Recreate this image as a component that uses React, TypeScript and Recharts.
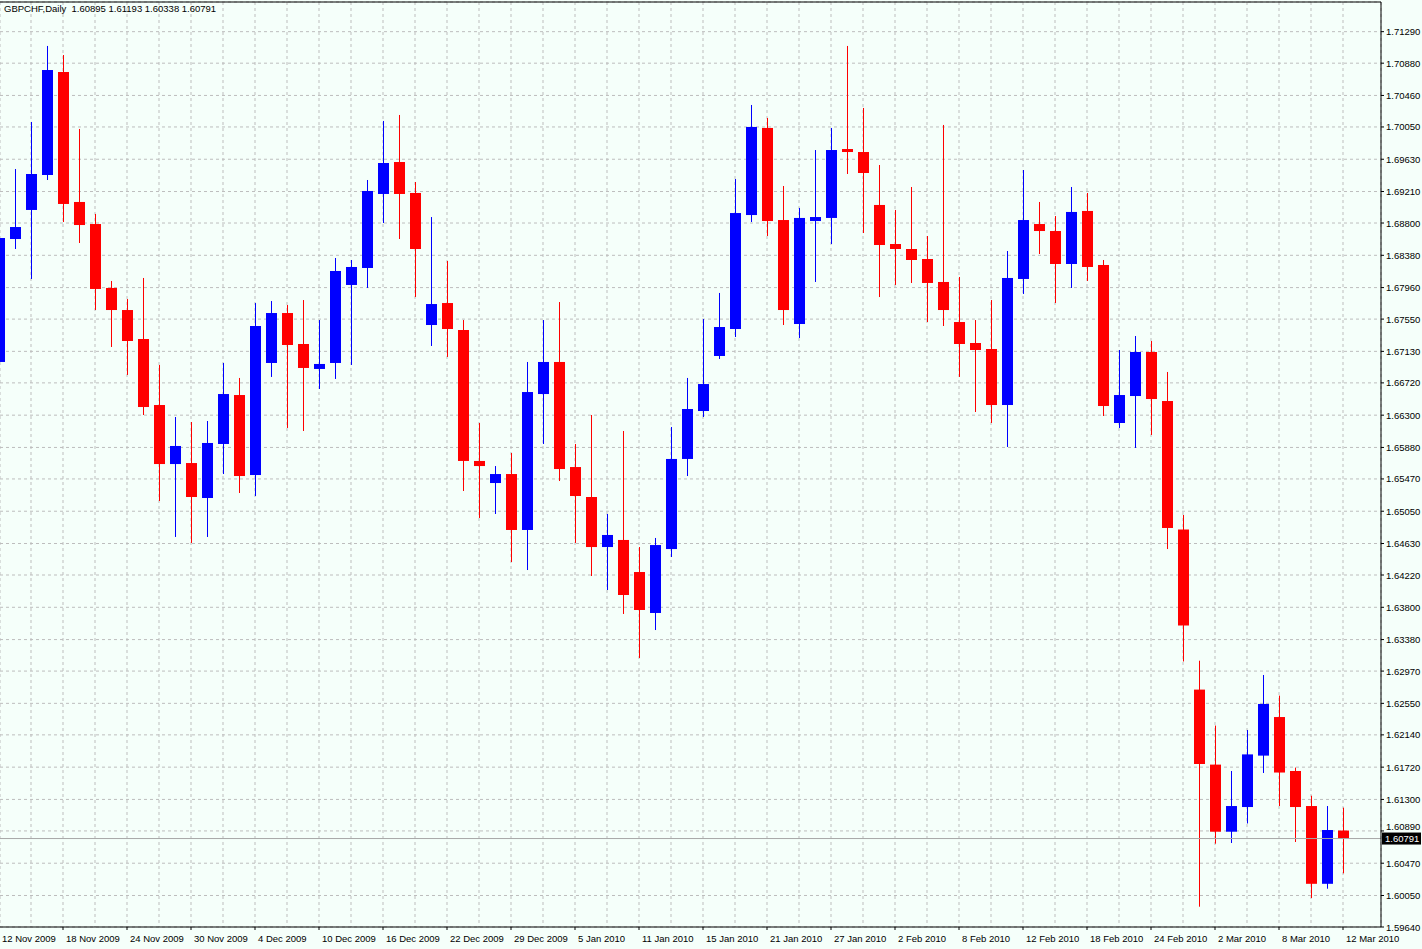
import React from "react";
import {
  ComposedChart,
  Bar,
  XAxis,
  YAxis,
  CartesianGrid,
  ReferenceLine,
} from "recharts";

// GBPCHF daily, 12 Nov 2009 .. 12 Mar 2010
const DATES = [
  "12 Nov 2009", "13 Nov 2009", "16 Nov 2009", "17 Nov 2009", "18 Nov 2009", "19 Nov 2009",
  "20 Nov 2009", "23 Nov 2009", "24 Nov 2009", "25 Nov 2009", "26 Nov 2009", "27 Nov 2009",
  "30 Nov 2009", "1 Dec 2009", "2 Dec 2009", "3 Dec 2009", "4 Dec 2009", "7 Dec 2009",
  "8 Dec 2009", "9 Dec 2009", "10 Dec 2009", "11 Dec 2009", "14 Dec 2009", "15 Dec 2009",
  "16 Dec 2009", "17 Dec 2009", "18 Dec 2009", "21 Dec 2009", "22 Dec 2009", "23 Dec 2009",
  "24 Dec 2009", "28 Dec 2009", "29 Dec 2009", "30 Dec 2009", "31 Dec 2009", "4 Jan 2010",
  "5 Jan 2010", "6 Jan 2010", "7 Jan 2010", "8 Jan 2010", "11 Jan 2010", "12 Jan 2010",
  "13 Jan 2010", "14 Jan 2010", "15 Jan 2010", "18 Jan 2010", "19 Jan 2010", "20 Jan 2010",
  "21 Jan 2010", "22 Jan 2010", "25 Jan 2010", "26 Jan 2010", "27 Jan 2010", "28 Jan 2010",
  "29 Jan 2010", "1 Feb 2010", "2 Feb 2010", "3 Feb 2010", "4 Feb 2010", "5 Feb 2010",
  "8 Feb 2010", "9 Feb 2010", "10 Feb 2010", "11 Feb 2010", "12 Feb 2010", "15 Feb 2010",
  "16 Feb 2010", "17 Feb 2010", "18 Feb 2010", "19 Feb 2010", "22 Feb 2010", "23 Feb 2010",
  "24 Feb 2010", "25 Feb 2010", "26 Feb 2010", "1 Mar 2010", "2 Mar 2010", "3 Mar 2010",
  "4 Mar 2010", "5 Mar 2010", "8 Mar 2010", "9 Mar 2010", "10 Mar 2010", "11 Mar 2010",
  "12 Mar 2010",
];

const OPEN = [
  1.66992, 1.68592, 1.6897, 1.69425, 1.70765, 1.69074, 1.68787, 1.67955, 1.67668, 1.67291,
  1.66432, 1.65664, 1.65677, 1.65222, 1.65925, 1.66562, 1.65521, 1.66979, 1.67629, 1.67226,
  1.66901, 1.66979, 1.67994, 1.68215, 1.69178, 1.69594, 1.69191, 1.67473, 1.67759, 1.67408,
  1.65704, 1.65417, 1.65534, 1.64806, 1.66575, 1.66992, 1.65625, 1.65235, 1.64584, 1.64676,
  1.64259, 1.63726, 1.64558, 1.6573, 1.66354, 1.6707, 1.67421, 1.68904, 1.70037, 1.68839,
  1.67486, 1.68826, 1.68866, 1.69763, 1.69724, 1.69035, 1.68527, 1.68462, 1.68332, 1.68033,
  1.67512, 1.67239, 1.67161, 1.66432, 1.68072, 1.68787, 1.68696, 1.68267, 1.68957, 1.68254,
  1.66198, 1.66549, 1.67122, 1.66484, 1.64812, 1.62729, 1.61753, 1.6088, 1.61201, 1.6187,
  1.62372, 1.6167, 1.61214, 1.60202, 1.60895,
];

const HIGH = [
  1.68618, 1.69503, 1.70115, 1.71104, 1.70986, 1.70024, 1.68918, 1.68046, 1.67811, 1.68085,
  1.66953, 1.66276, 1.66211, 1.66224, 1.66979, 1.66784, 1.67759, 1.67785, 1.67733, 1.67798,
  1.67538, 1.68345, 1.68319, 1.6936, 1.70128, 1.70206, 1.69334, 1.68878, 1.68306, 1.67538,
  1.66198, 1.65638, 1.65808, 1.66992, 1.67538, 1.67772, 1.65925, 1.66302, 1.65014, 1.66094,
  1.64584, 1.64702, 1.66146, 1.66784, 1.67551, 1.6789, 1.69373, 1.70336, 1.70167, 1.69282,
  1.68996, 1.6975, 1.70037, 1.71104, 1.70297, 1.69555, 1.6897, 1.69269, 1.68631, 1.70076,
  1.68098, 1.67538, 1.67798, 1.68436, 1.6949, 1.69074, 1.68891, 1.69269, 1.69191, 1.68319,
  1.67148, 1.6733, 1.67265, 1.66862, 1.65001, 1.63105, 1.62261, 1.6167, 1.62203, 1.62919,
  1.62651, 1.61714, 1.61348, 1.61214, 1.61193,
];

const LOW = [
  1.66979, 1.68462, 1.68072, 1.6936, 1.68813, 1.6854, 1.67668, 1.67187, 1.66823, 1.66302,
  1.65183, 1.64715, 1.64637, 1.64715, 1.65534, 1.65287, 1.65248, 1.66797, 1.66133, 1.66094,
  1.6664, 1.66771, 1.66953, 1.67955, 1.688, 1.68592, 1.67837, 1.672, 1.67057, 1.65313,
  1.64962, 1.65014, 1.64389, 1.64285, 1.65925, 1.65443, 1.64637, 1.64207, 1.64025, 1.63713,
  1.6314, 1.63504, 1.64454, 1.65508, 1.66276, 1.67031, 1.67317, 1.68813, 1.68631, 1.67473,
  1.67304, 1.68033, 1.68527, 1.69438, 1.6867, 1.67837, 1.67994, 1.6802, 1.67512, 1.6746,
  1.66797, 1.66341, 1.66198, 1.65886, 1.67877, 1.68397, 1.67759, 1.67955, 1.68046, 1.66289,
  1.66133, 1.65873, 1.66042, 1.64558, 1.63095, 1.59904, 1.60724, 1.60733, 1.60987, 1.61644,
  1.61214, 1.60746, 1.60017, 1.60138, 1.60338,
];

const CLOSE = [
  1.68605, 1.68748, 1.69438, 1.70791, 1.69048, 1.68774, 1.67942, 1.67668, 1.67265, 1.66406,
  1.65664, 1.65899, 1.65235, 1.65938, 1.66575, 1.65508, 1.6746, 1.67629, 1.67213, 1.66914,
  1.66966, 1.68176, 1.68228, 1.69217, 1.69581, 1.69178, 1.68462, 1.67746, 1.67421, 1.65704,
  1.65638, 1.65534, 1.64806, 1.66601, 1.66992, 1.65599, 1.65248, 1.64584, 1.64741, 1.6396,
  1.63765, 1.6461, 1.6573, 1.6638, 1.66705, 1.67447, 1.6893, 1.7005, 1.68826, 1.67668,
  1.68866, 1.68878, 1.6975, 1.69724, 1.69451, 1.68514, 1.68462, 1.68319, 1.6802, 1.67668,
  1.67226, 1.67148, 1.66432, 1.68085, 1.68839, 1.68696, 1.68267, 1.68944, 1.68228, 1.66419,
  1.66562, 1.67122, 1.6651, 1.64832, 1.63563, 1.61761, 1.6088, 1.61214, 1.61886, 1.62542,
  1.6165, 1.61201, 1.60202, 1.60902, 1.60791,
];

const PRICE_TICKS = [
  1.5964, 1.6005, 1.6047, 1.6089, 1.613, 1.6172, 1.6214, 1.6255, 1.6297, 1.6338,
  1.638, 1.6422, 1.6463, 1.6505, 1.6547, 1.6588, 1.663, 1.6672, 1.6713, 1.6755,
  1.6796, 1.6838, 1.688, 1.6921, 1.6963, 1.7005, 1.7046, 1.7088, 1.7129,
];

const SYMBOL = "GBPCHF,Daily";

const W = 1422;
const H = 949;
const BG = "#F5FFFA";
const BULL = "#0000FF";
const BEAR = "#FF0000";
const FONT = "Tahoma, 'Liberation Sans', Arial, sans-serif";
const FS = 9.5;
const Y_MIN = 1.5964;
const Y_MAX = 1.71676;
const X_MIN = 0.0625;
const X_MAX = 86.375;

const data = DATES.map((date, i) => ({
  i,
  date,
  open: OPEN[i],
  high: HIGH[i],
  low: LOW[i],
  close: CLOSE[i],
}));

const labelIdx = data.filter((d) => d.i % 4 === 0).map((d) => d.i);
const gridIdx = data.filter((d) => d.i % 2 === 0).map((d) => d.i);
const last = data[data.length - 1];

function Candle(props: any) {
  const { x, y, width, height, payload } = props;
  if (payload == null) return null;
  const { open, close, high, low } = payload;
  const top0 = Math.min(y, y + height);
  const span = Math.abs(height);
  const k = high === low ? 0 : span / (high - low);
  const bodyTop = top0 + (high - Math.max(open, close)) * k;
  const bodyBot = top0 + (high - Math.min(open, close)) * k;
  const cx = Math.round(x + width / 2);
  const color = close >= open ? BULL : BEAR;
  return (
    <g>
      <line
        x1={cx + 0.5}
        x2={cx + 0.5}
        y1={top0}
        y2={top0 + span}
        stroke={color}
        strokeWidth={1}
      />
      <rect
        x={cx - 5}
        y={bodyTop}
        width={11}
        height={Math.max(1, bodyBot - bodyTop)}
        fill={color}
      />
    </g>
  );
}

function DateTick(props: any) {
  const { x, y, payload } = props;
  return (
    <text
      x={x + 3}
      y={y}
      dy={10}
      textAnchor="start"
      fontSize={FS}
      fontFamily={FONT}
      fill="#000"
    >
      {DATES[payload.value]}
    </text>
  );
}

function PriceTick(props: any) {
  const { x, y, payload } = props;
  // the label sitting right above the last-price tag is nudged clear of it
  const nearTag = Math.abs(payload.value - last.close) < 0.0012;
  return (
    <text
      x={x}
      y={nearTag ? y - 4 : y}
      dy={3.5}
      textAnchor="start"
      fontSize={FS}
      fontFamily={FONT}
      fill="#000"
    >
      {Number(payload.value).toFixed(5)}
    </text>
  );
}

function PriceTag(props: any) {
  const vb = props.viewBox;
  if (!vb) return null;
  const left = vb.x + vb.width + 1;
  return (
    <g>
      <rect x={left} y={vb.y - 6} width={W - left - 1} height={12} fill="#000" />
      <text
        x={left + 3}
        y={vb.y}
        dy={3.5}
        fontSize={FS}
        fontFamily={FONT}
        fill="#fff"
      >
        {last.close.toFixed(5)}
      </text>
    </g>
  );
}

export default function App() {
  return (
    <div style={{ position: "relative", width: W, height: H, background: BG }}>
      <style>{`body{margin:0;background:${BG}}`}</style>
      <ComposedChart
        width={W}
        height={H}
        data={data}
        margin={{ top: 2, right: 0, bottom: 0, left: 0 }}
      >
        <XAxis
          xAxisId="grid"
          dataKey="i"
          type="number"
          domain={[X_MIN, X_MAX]}
          allowDataOverflow
          ticks={gridIdx}
          interval={0}
          hide
        />
        <CartesianGrid
          xAxisId="grid"
          stroke="#BDBDBD"
          strokeDasharray="3 3"
        />
        <XAxis
          dataKey="i"
          type="number"
          domain={[X_MIN, X_MAX]}
          allowDataOverflow
          ticks={labelIdx}
          interval={0}
          height={22}
          tickSize={3}
          tickMargin={2}
          tick={<DateTick />}
          axisLine={{ stroke: "#000" }}
          tickLine={{ stroke: "#000" }}
        />
        <YAxis
          orientation="right"
          type="number"
          domain={[Y_MIN, Y_MAX]}
          ticks={PRICE_TICKS}
          interval={0}
          width={41}
          tickSize={3}
          tickMargin={2}
          tick={<PriceTick />}
          axisLine={{ stroke: "#000" }}
          tickLine={{ stroke: "#000" }}
        />
        <Bar
          dataKey={(d: any) => [d.low, d.high]}
          barSize={11}
          shape={(p: any) => <Candle {...p} />}
          isAnimationActive={false}
        />
        <ReferenceLine y={Y_MAX} stroke="#000" />
        <ReferenceLine
          y={last.close}
          stroke="#A8A8A8"
          label={<PriceTag />}
        />
      </ComposedChart>
      <div
        style={{
          position: "absolute",
          left: 4,
          top: 3,
          fontSize: FS,
          lineHeight: "12px",
          fontFamily: FONT,
          whiteSpace: "pre",
          color: "#000",
        }}
      >
        {`${SYMBOL}  ${last.open.toFixed(5)} ${last.high.toFixed(5)} ${last.low.toFixed(5)} ${last.close.toFixed(5)}`}
      </div>
    </div>
  );
}
